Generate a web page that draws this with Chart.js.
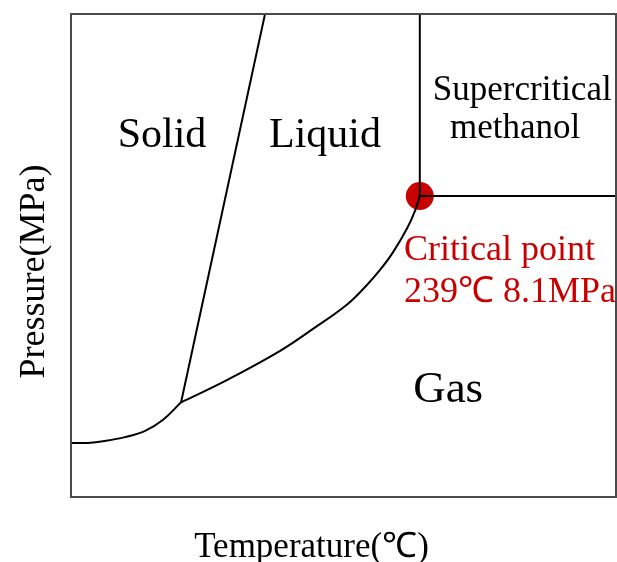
<!DOCTYPE html>
<html>
<head>
<meta charset="utf-8">
<title>Methanol phase diagram</title>
<script src="https://cdn.jsdelivr.net/npm/chart.js@4"></script>
<style>
  html, body { margin: 0; padding: 0; background: #fff; }
  #wrap { width: 617px; height: 562px; }
</style>
</head>
<body>
<div id="wrap"><canvas id="phaseChart" width="617" height="562"></canvas></div>
<script>
// phase boundaries, in relative units (0-100 on both axes)
const sublimationX = [0, 3.1, 6.2, 9.9, 13.6, 16.9, 20.2];
const sublimationY = [11.2, 11.2, 11.6, 12.4, 13.7, 16.0, 19.6];

const meltingX = [20.2, 35.6];
const meltingY = [19.6, 100];

const vaporX = [20.2, 28.6, 38.3, 44.4, 50.6, 54.3, 56.7, 59.1, 61.7, 63.1, 64.0];
const vaporY = [19.6, 24.2, 30.2, 34.8, 39.8, 43.9, 47.0, 50.7, 55.7, 59.2, 62.3];

const criticalX = 64.0;
const criticalY = 62.3;
const axisMax = 100;

const regionLabels = ['Solid', 'Liquid', 'Supercritical', 'methanol', 'Gas'];
const criticalLabels = ['Critical point', '239\u2103 8.1MPa'];
const xTitle = 'Temperature(\u2103)';
const yTitle = 'Pressure(MPa)';

const SERIF = '"Liberation Serif", "Times New Roman", serif';
const RED = '#c80000';

const toPoints = (xs, ys) => xs.map((x, i) => ({ x, y: ys[i] }));

const lineStyle = {
    showLine: true,
    borderColor: '#000',
    borderWidth: 2,
    pointRadius: 0,
    fill: false,
};

const datasets = [
    { ...lineStyle, label: 'sublimation', data: toPoints(sublimationX, sublimationY), tension: 0.4 },
    { ...lineStyle, label: 'melting', data: toPoints(meltingX, meltingY) },
    { ...lineStyle, label: 'vaporization', data: toPoints(vaporX, vaporY), tension: 0.4 },
    { ...lineStyle, label: 'supercritical T', data: [{ x: criticalX, y: criticalY }, { x: criticalX, y: axisMax }] },
    { ...lineStyle, label: 'supercritical P', data: [{ x: criticalX, y: criticalY }, { x: axisMax, y: criticalY }] },
    {
        label: 'critical point',
        data: [{ x: criticalX, y: criticalY }],
        showLine: false,
        pointRadius: 14,
        pointHoverRadius: 14,
        pointBackgroundColor: RED,
        pointBorderColor: RED,
        borderWidth: 0,
    },
];

// where each label sits, in data units (x center / left edge, y baseline)
const regionLabelPos = [
    { x: 16.7, y: 72.5, size: 42 },
    { x: 46.6, y: 72.5, size: 42 },
    { x: 82.8, y: 82.2, size: 35 },
    { x: 81.5, y: 74.3, size: 35 },
    { x: 69.2, y: 19.7, size: 45 },
];
const criticalLabelPos = [
    { x: 61.1, y: 49.1 },
    { x: 61.1, y: 40.4 },
];

const framePlugin = {
    id: 'frame',
    afterDatasetsDraw(chart) {
        const { ctx, chartArea: a, scales } = chart;
        ctx.save();
        ctx.strokeStyle = '#4a4a4a';
        ctx.lineWidth = 2;
        ctx.strokeRect(a.left, a.top, a.right - a.left, a.bottom - a.top);

        ctx.fillStyle = '#000';
        ctx.textAlign = 'center';
        ctx.textBaseline = 'alphabetic';
        regionLabels.forEach((text, i) => {
            const p = regionLabelPos[i];
            ctx.font = `${p.size}px ${SERIF}`;
            ctx.fillText(text, scales.x.getPixelForValue(p.x), scales.y.getPixelForValue(p.y));
        });

        ctx.fillStyle = RED;
        ctx.textAlign = 'left';
        ctx.font = `36px ${SERIF}`;
        criticalLabels.forEach((text, i) => {
            const p = criticalLabelPos[i];
            ctx.fillText(text, scales.x.getPixelForValue(p.x), scales.y.getPixelForValue(p.y));
        });

        // axis titles, no ticks on either axis
        ctx.fillStyle = '#000';
        ctx.textAlign = 'center';
        ctx.font = `35px ${SERIF}`;
        ctx.fillText(xTitle, (a.left + a.right) / 2 - 32, a.bottom + 60);

        ctx.font = `36px ${SERIF}`;
        ctx.translate(a.left - 27, (a.top + a.bottom) / 2 + 16);
        ctx.rotate(-Math.PI / 2);
        ctx.fillText(yTitle, 0, 0);
        ctx.restore();
    },
};

new Chart(document.getElementById('phaseChart'), {
    type: 'scatter',
    data: { datasets },
    options: {
        responsive: false,
        animation: false,
        layout: { autoPadding: false, padding: { left: 71, top: 14, right: 1, bottom: 65 } },
        plugins: {
            legend: { display: false },
            tooltip: { enabled: false },
        },
        scales: {
            x: { type: 'linear', min: 0, max: axisMax, display: false },
            y: { type: 'linear', min: 0, max: axisMax, display: false },
        },
    },
    plugins: [framePlugin],
});
</script>
</body>
</html>
